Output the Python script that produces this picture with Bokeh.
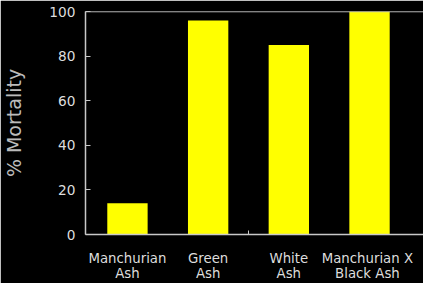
from bokeh.plotting import figure
from bokeh.models import Range1d, FixedTicker, Span, ColumnDataSource
from bokeh.embed import file_html
from bokeh.resources import INLINE

categories = ["Manchurian\nAsh", "Green\nAsh", "White\nAsh", "Manchurian  X\nBlack  Ash"]
positions = [1, 2, 3, 4]
mortality = [14, 96, 85, 100]
y_ticks = [0, 20, 40, 60, 80, 100]

src = ColumnDataSource(dict(x=positions, top=mortality))

p = figure(width=423, height=283, output_backend="svg", toolbar_location=None,
           x_range=Range1d(0.48, 4.669), y_range=Range1d(0, 100),
           background_fill_color="black", border_fill_color="black",
           min_border_left=84, min_border_right=0, min_border_top=11, min_border_bottom=41)
p.outline_line_color = None
p.grid.visible = False

p.vbar(x="x", top="top", width=0.5, bottom=0, source=src,
       fill_color="#ffff00", line_color=None)

axis_col = "#c8c8c8"
# x axis
xa = p.xaxis[0]
xa.ticker = FixedTicker(ticks=positions, minor_ticks=[2.5])
xa.major_label_overrides = {p_: c for p_, c in zip(positions, categories)}
xa.major_tick_line_color = None
xa.minor_tick_in = 4
xa.minor_tick_out = 0
xa.minor_tick_line_color = axis_col
xa.axis_line_color = axis_col
xa.axis_line_width = 1.5
xa.major_label_text_color = "#dddddd"
xa.major_label_text_font = "DejaVu Sans"
xa.major_label_text_font_size = "13.3px"
xa.major_label_standoff = 10
xa.major_label_text_line_height = 1.0

# y axis
ya = p.yaxis[0]
ya.ticker = FixedTicker(ticks=y_ticks)
ya.major_tick_in = 5
ya.major_tick_out = 0
ya.minor_tick_line_color = None
ya.major_tick_line_color = axis_col
ya.axis_line_color = axis_col
ya.axis_line_width = 1.5
ya.major_label_text_color = "#dddddd"
ya.major_label_text_font = "DejaVu Sans"
ya.major_label_text_font_size = "13.7px"
ya.major_label_standoff = 10
ya.axis_label = "% Mortality"
ya.axis_label_text_color = "#bbbbbb"
ya.axis_label_text_font = "DejaVu Sans"
ya.axis_label_text_font_size = "19px"
ya.axis_label_text_font_style = "normal"
ya.axis_label_standoff = 21

p.add_layout(Span(location=100, dimension="width", line_color=axis_col, line_width=1.5))

open("out.html", "w").write(file_html(p, INLINE))
